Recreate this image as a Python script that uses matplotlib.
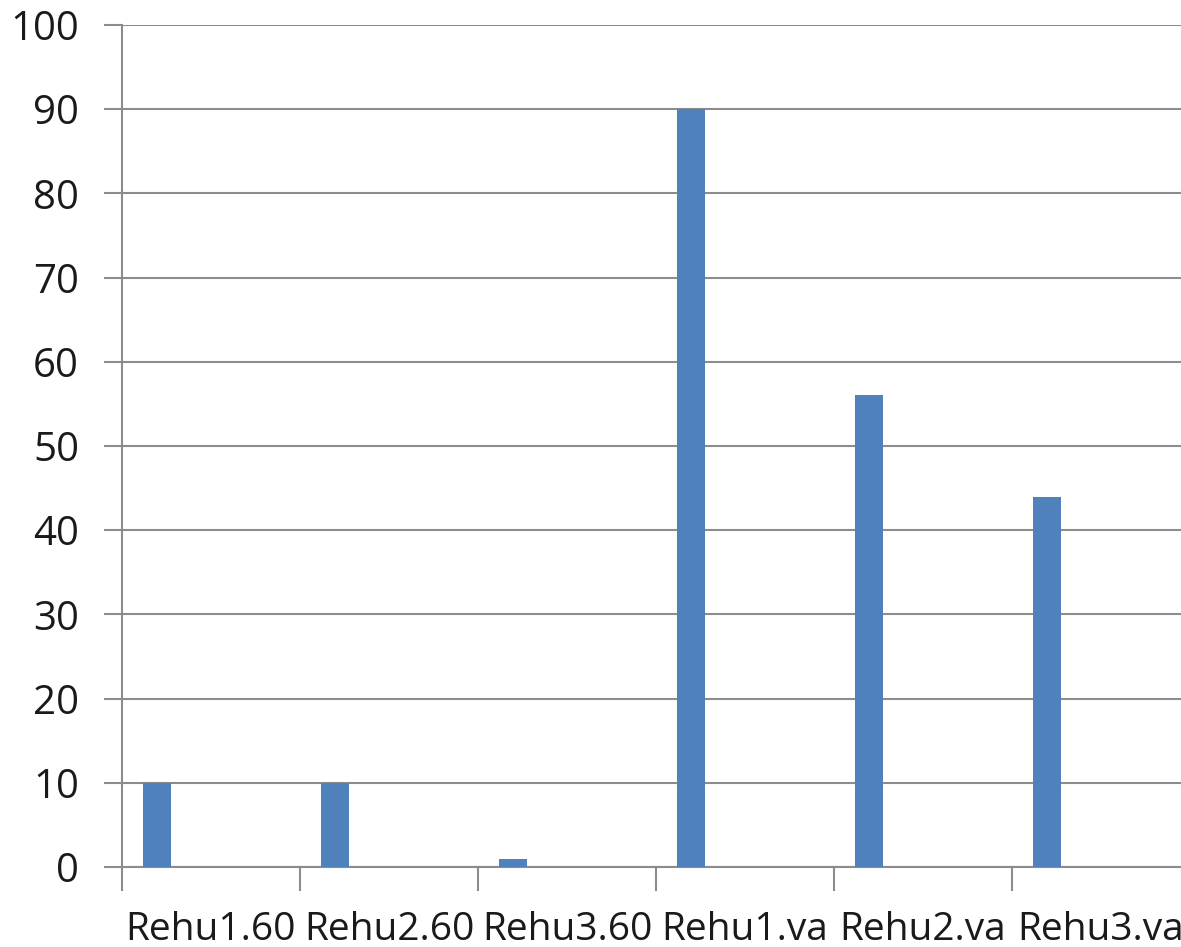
import matplotlib
matplotlib.use("Agg")
import matplotlib.pyplot as plt
import numpy as np

categories = ["Rehu1.60", "Rehu2.60", "Rehu3.60", "Rehu1.va", "Rehu2.va", "Rehu3.va"]
values = [10, 10, 1, 90, 56, 44]

W, H = 1181, 947
fig = plt.figure(figsize=(W / 100, H / 100), dpi=100)
ax = fig.add_axes([122 / W, 80 / H, (1190 - 122) / W, (867 - 25) / H])

x = np.arange(len(categories))
bar_w = 0.157
ax.bar(x + 0.118, values, width=bar_w, align="edge", color="#4F81BD", zorder=3)

ax.set_xlim(0, len(categories))
ax.set_ylim(0, 100)
ax.set_yticks(np.arange(0, 101, 10))
ax.set_xticks(np.arange(0, len(categories) + 1))
ax.set_xticklabels([])
ax.set_xticks(x + 0.5, minor=True)
ax.set_xticklabels(categories, minor=True)

grid_c = "#8C8C8C"
ax.yaxis.grid(True, color=grid_c, linewidth=1.5, zorder=0)
for s in ["top", "right"]:
    ax.spines[s].set_visible(False)
for s in ["left", "bottom"]:
    ax.spines[s].set_color(grid_c)
    ax.spines[s].set_linewidth(1.5)

ax.tick_params(axis="y", which="major", length=13, width=1.5, color=grid_c,
               labelsize=29, pad=18, labelcolor="#1a1a1a")
ax.tick_params(axis="x", which="major", length=17, width=1.5, color=grid_c)
ax.tick_params(axis="x", which="minor", length=0, labelsize=28, pad=32, labelcolor="#1a1a1a")
for lab in ax.get_yticklabels() + ax.get_xticklabels(minor=True):
    lab.set_fontfamily("Open Sans")

fig.savefig("out.png", dpi=100)
